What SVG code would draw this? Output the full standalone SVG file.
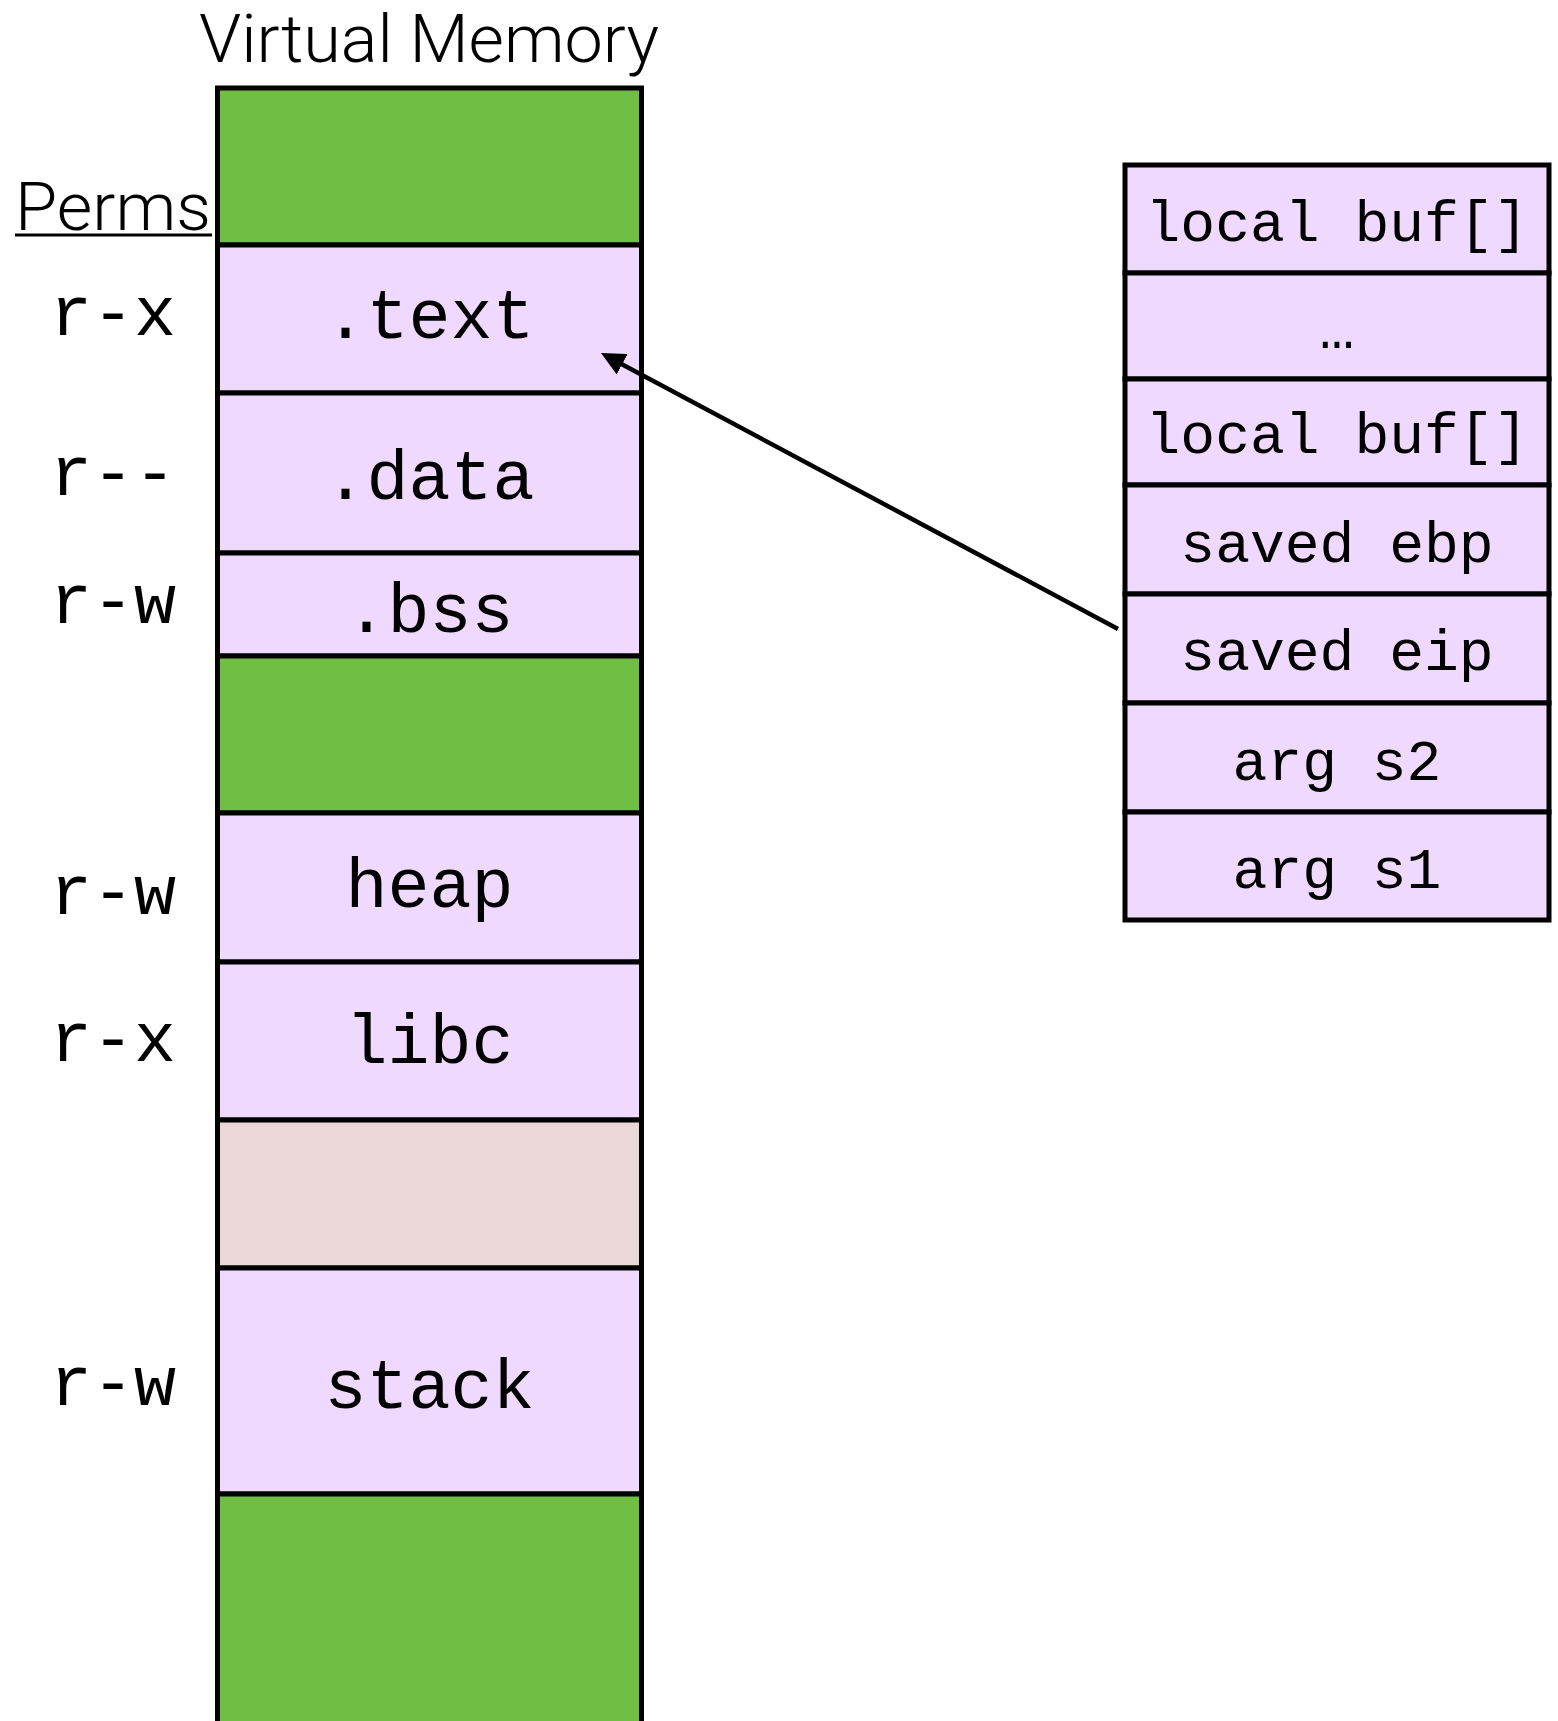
<svg xmlns="http://www.w3.org/2000/svg" width="1558" height="1721" viewBox="0 0 1558 1721">
  <style>
    .seg { stroke: #000; stroke-width: 5; }
    .free { fill: #71BE44; }
    .used { fill: #F0D9FE; }
    .gap { fill: #E9D8D7; }
    .title { font-family: Roboto, "Liberation Sans", sans-serif; font-weight: 300; font-size: 67px; fill: #000; }
    .mono { font-family: "Liberation Mono", "Courier New", monospace; fill: #000; }
    .big { font-size: 70px; }
    .small { font-size: 58px; }
    .mid { text-anchor: middle; }
    .conn { stroke: #000; stroke-width: 4.5; fill: none; }
  </style>
  <defs>
    <marker id="arrowhead" markerUnits="userSpaceOnUse" viewBox="0 0 24 23" refX="4" refY="11.5" markerWidth="24" markerHeight="23" orient="auto">
      <path d="M0,0 L24,11.5 L0,23 Z" fill="#000"/>
    </marker>
  </defs>
  <rect width="1558" height="1721" fill="#fff"/>

  <!-- headings -->
  <text id="title" class="title" x="199" y="62" textLength="460" lengthAdjust="spacingAndGlyphs">Virtual Memory</text>
  <g id="perms-heading">
    <text class="title" x="15" y="230" textLength="196" lengthAdjust="spacingAndGlyphs">Perms</text>
    <line x1="15" y1="235" x2="212" y2="235" stroke="#000" stroke-width="3"/>
  </g>

  <!-- virtual memory column -->
  <g id="vm-top-free"><rect class="seg free" x="217.5" y="88" width="424" height="157"/></g>
  <g id="vm-text">
    <rect class="seg used" x="217.5" y="245" width="424" height="148"/>
    <text class="mono big mid" x="429.5" y="338">.text</text>
    <text class="mono big" x="50" y="335">r-x</text>
  </g>
  <g id="vm-data">
    <rect class="seg used" x="217.5" y="393" width="424" height="160"/>
    <text class="mono big mid" x="429.5" y="499">.data</text>
    <text class="mono big" x="50" y="495">r--</text>
  </g>
  <g id="vm-bss">
    <rect class="seg used" x="217.5" y="553" width="424" height="103"/>
    <text class="mono big mid" x="429.5" y="632">.bss</text>
    <text class="mono big" x="50" y="623">r-w</text>
  </g>
  <g id="vm-mid-free"><rect class="seg free" x="217.5" y="656" width="424" height="157"/></g>
  <g id="vm-heap">
    <rect class="seg used" x="217.5" y="813" width="424" height="149"/>
    <text class="mono big mid" x="429.5" y="907">heap</text>
    <text class="mono big" x="50" y="914">r-w</text>
  </g>
  <g id="vm-libc">
    <rect class="seg used" x="217.5" y="962" width="424" height="158"/>
    <text class="mono big mid" x="429.5" y="1063">libc</text>
    <text class="mono big" x="50" y="1061">r-x</text>
  </g>
  <g id="vm-gap"><rect class="seg gap" x="217.5" y="1120" width="424" height="148"/></g>
  <g id="vm-stack">
    <rect class="seg used" x="217.5" y="1268" width="424" height="226"/>
    <text class="mono big mid" x="429.5" y="1408">stack</text>
    <text class="mono big" x="50" y="1405">r-w</text>
  </g>
  <g id="vm-bottom-free"><rect class="seg free" x="217.5" y="1494" width="424" height="260"/></g>

  <!-- stack frame -->
  <g id="frame-buf-top">
    <rect class="seg used" x="1125" y="165" width="424" height="108"/>
    <text class="mono small mid" x="1337" y="241">local buf[]</text>
  </g>
  <g id="frame-ellipsis">
    <rect class="seg used" x="1125" y="273" width="424" height="106"/>
    <text class="mono small mid" x="1337" y="348">…</text>
  </g>
  <g id="frame-buf-bottom">
    <rect class="seg used" x="1125" y="379" width="424" height="106"/>
    <text class="mono small mid" x="1337" y="453">local buf[]</text>
  </g>
  <g id="frame-ebp">
    <rect class="seg used" x="1125" y="485" width="424" height="109"/>
    <text class="mono small mid" x="1337" y="562">saved ebp</text>
  </g>
  <g id="frame-eip">
    <rect class="seg used" x="1125" y="594" width="424" height="109"/>
    <text class="mono small mid" x="1337" y="670">saved eip</text>
  </g>
  <g id="frame-s2">
    <rect class="seg used" x="1125" y="703" width="424" height="109"/>
    <text class="mono small mid" x="1337" y="780">arg s2</text>
  </g>
  <g id="frame-s1">
    <rect class="seg used" x="1125" y="812" width="424" height="108"/>
    <text class="mono small mid" x="1337" y="888">arg s1</text>
  </g>

  <!-- connectors -->
  <g id="connectors">
    <path class="conn" d="M1118,629 L618.6,362.4" marker-end="url(#arrowhead)"/>
  </g>
</svg>
